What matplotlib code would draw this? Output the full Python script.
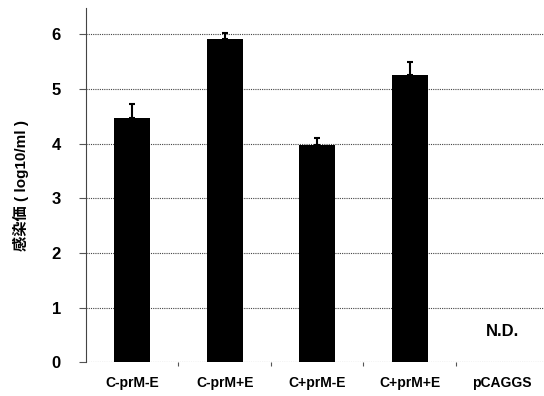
import matplotlib.pyplot as plt

plt.rcParams['font.family'] = ['Liberation Sans', 'Noto Sans CJK JP', 'DejaVu Sans']

constructs = ['C-prM-E', 'C-prM+E', 'C+prM-E', 'C+prM+E', 'pCAGGS']
titers = [4.46, 5.92, 3.98, 5.25]      # pCAGGS: not detected
titer_err = [0.26, 0.11, 0.13, 0.25]
nd_label = 'N.D.'

fig = plt.figure(figsize=(5.44, 3.96), dpi=100)
ax = fig.add_axes([0.158, 0.085, 0.85, 0.895])

x = list(range(len(titers)))
ax.bar(x, titers, width=0.39, color='black', zorder=3)
ax.errorbar(x, titers, yerr=[[0] * len(titers), titer_err], fmt='none',
            ecolor='black', elinewidth=1.5, capsize=2.5, capthick=1.5, zorder=4)
ax.text(len(constructs) - 1, 0.56, nd_label, ha='center', va='center',
        fontsize=12, fontweight='bold')

ax.set_xlim(-0.5, len(constructs) - 0.5)
ax.set_ylim(0, 6.48)
ax.set_yticks(range(7))
ax.set_yticklabels([str(v) for v in range(7)], fontsize=12, fontweight='bold')
ax.set_xticks(range(len(constructs)))
ax.set_xticklabels(constructs, fontsize=10, fontweight='bold')
ax.tick_params(axis='x', length=0, pad=10)
ax.tick_params(axis='y', length=5, width=0.8, pad=13, color='#555555')
ax.set_xticks([i + 0.5 for i in range(len(constructs) - 1)], minor=True)
ax.tick_params(axis='x', which='minor', length=3, width=0.8, color='#555555')

ax.yaxis.grid(True, linestyle=(0, (1, 1)), color='#444444', linewidth=0.8, zorder=0)
for side in ['top', 'right', 'bottom']:
    ax.spines[side].set_visible(False)
ax.spines['left'].set_linestyle((0, (1, 1)))
ax.spines['left'].set_color('#444444')
ax.spines['left'].set_linewidth(0.8)

ax.set_ylabel('感染価 ( log10/ml )', fontsize=11, fontweight='bold', labelpad=16)

plt.savefig('out.png', dpi=100)
plt.close()
